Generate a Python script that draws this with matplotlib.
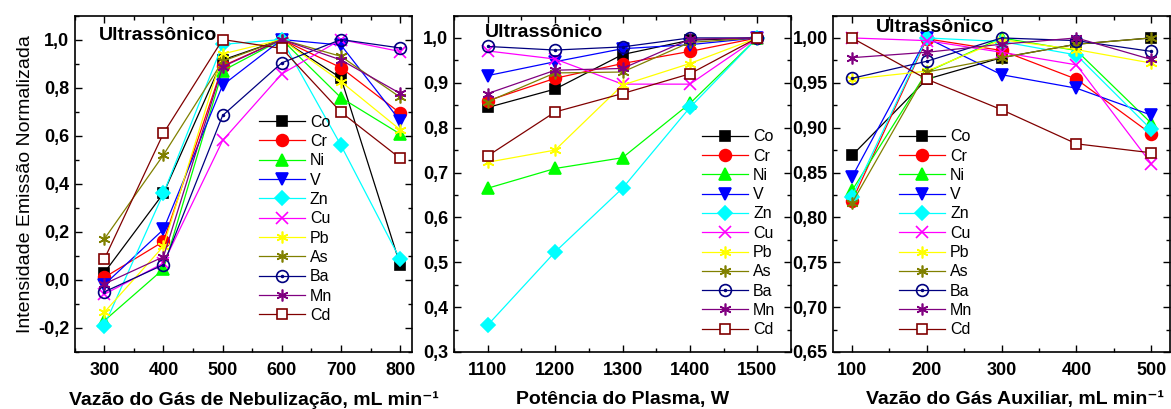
import matplotlib
matplotlib.use('Agg')
import matplotlib.pyplot as plt
from matplotlib.ticker import MultipleLocator, FuncFormatter

plt.rcParams['font.family'] = ['Liberation Sans', 'DejaVu Sans']

# dados
elementos = ['Co', 'Cr', 'Ni', 'V', 'Zn', 'Cu', 'Pb', 'As', 'Ba', 'Mn', 'Cd']
cores = ['#000000', '#ff0000', '#00ff00', '#0000ff', '#00ffff', '#ff00ff',
         '#ffff00', '#808000', '#000080', '#800080', '#800000']
marcadores = ['s', 'o', '^', 'v', 'D', 'x', (6, 2, 0), (6, 2, 0), 'o', (6, 2, 0), 's']
abertos = ['Ba', 'Cd']

vazao_neb = [300, 400, 500, 600, 700, 800]
neb = {
    'Co': [0.03, 0.36, 0.915, 1.0, 0.84, 0.063],
    'Cr': [0.01, 0.16, 0.89, 1.0, 0.883, 0.694],
    'Ni': [-0.17, 0.045, 0.87, 1.0, 0.758, 0.607],
    'V':  [-0.02, 0.21, 0.81, 1.0, 0.977, 0.662],
    'Zn': [-0.19, 0.36, 0.98, 1.0, 0.56, 0.086],
    'Cu': [-0.06, 0.07, 0.58, 0.857, 1.0, 0.95],
    'Pb': [-0.135, 0.14, 0.94, 1.0, 0.825, 0.625],
    'As': [0.17, 0.52, 0.91, 1.0, 0.93, 0.76],
    'Ba': [-0.05, 0.063, 0.684, 0.903, 1.0, 0.965],
    'Mn': [-0.017, 0.096, 0.887, 1.0, 0.915, 0.776],
    'Cd': [0.086, 0.61, 1.0, 0.963, 0.698, 0.506],
}

potencia = [1100, 1200, 1300, 1400, 1500]
pot = {
    'Co': [0.845, 0.886, 0.963, 0.995, 1.0],
    'Cr': [0.86, 0.91, 0.943, 0.97, 1.0],
    'Ni': [0.665, 0.709, 0.733, 0.854, 1.0],
    'V':  [0.916, 0.947, 0.976, 0.985, 1.0],
    'Zn': [0.36, 0.523, 0.665, 0.845, 1.0],
    'Cu': [0.971, 0.953, 0.897, 0.897, 1.0],
    'Pb': [0.723, 0.75, 0.895, 0.943, 1.0],
    'As': [0.858, 0.922, 0.924, 0.99, 1.0],
    'Ba': [0.981, 0.973, 0.98, 1.0, 1.0],
    'Mn': [0.876, 0.928, 0.932, 0.997, 1.0],
    'Cd': [0.737, 0.835, 0.876, 0.92, 1.0],
}

vazao_aux = [100, 200, 300, 400, 500]
aux = {
    'Co': [0.869, 0.954, 0.978, 0.993, 1.0],
    'Cr': [0.818, 0.999, 0.986, 0.954, 0.893],
    'Ni': [0.83, 0.962, 1.0, 0.986, 0.905],
    'V':  [0.845, 1.0, 0.959, 0.944, 0.914],
    'Zn': [0.823, 1.0, 0.996, 0.981, 0.898],
    'Cu': [1.0, 0.997, 0.984, 0.97, 0.86],
    'Pb': [0.954, 0.963, 0.998, 0.987, 0.972],
    'As': [0.816, 0.962, 0.978, 0.993, 1.0],
    'Ba': [0.955, 0.974, 1.0, 0.997, 0.985],
    'Mn': [0.978, 0.984, 0.993, 1.0, 0.976],
    'Cd': [1.0, 0.954, 0.92, 0.882, 0.872],
}


def virgula(casas):
    return FuncFormatter(lambda v, p: f"{v:.{casas}f}".replace('.', ','))


def desenhar(ax, x, dados, xlim, ylim, ymaj, ymin, casas, xlabel, xlabel_x,
             leg_pos, txt_pos):
    handles = []
    for el, cor, m in zip(elementos, cores, marcadores):
        ms = 7 if m == 'D' else (7.5 if m == 's' else 8.5)
        fc = 'none' if el in abertos else cor
        if el == 'Cd':
            fc = 'white'
        linha, = ax.plot(x, dados[el], color=cor, marker=m, ms=ms, mfc=fc,
                         mec=cor, lw=0.9, mew=1.2, label=el)
        if el == 'Ba':
            ponto, = ax.plot(x, dados[el], ls='none', marker='o', ms=1.5,
                             color=cor)
            handles.append((linha, ponto))
        else:
            handles.append(linha)
    ax.set_xlim(*xlim)
    ax.set_ylim(*ylim)
    ax.xaxis.set_major_locator(MultipleLocator(100))
    ax.xaxis.set_minor_locator(MultipleLocator(50))
    ax.yaxis.set_major_locator(MultipleLocator(ymaj))
    ax.yaxis.set_minor_locator(MultipleLocator(ymin))
    ax.yaxis.set_major_formatter(virgula(casas))
    ax.tick_params(which='both', direction='in', top=True, right=True, width=1)
    ax.tick_params(which='major', length=5)
    ax.tick_params(which='minor', length=3)
    ax.tick_params(axis='x', pad=7)
    ax.tick_params(axis='y', pad=4)
    for lb in ax.get_xticklabels() + ax.get_yticklabels():
        lb.set_fontweight('bold')
        lb.set_fontsize(13)
    for sp in ax.spines.values():
        sp.set_linewidth(1.2)
    ax.set_xlabel(xlabel, fontsize=14, fontweight='bold', x=xlabel_x, labelpad=9)
    ax.legend(handles, elementos, loc='upper left', bbox_to_anchor=leg_pos,
              frameon=False, fontsize=11.5, borderpad=0, borderaxespad=0,
              handlelength=2.9, handletextpad=0.3, labelspacing=0.27,
              numpoints=1)
    ax.text(txt_pos[0], txt_pos[1], 'Ultrassônico', transform=ax.transAxes,
            fontsize=14, fontweight='bold', va='center', ha='left')


fig = plt.figure(figsize=(11.71, 4.09), dpi=100)
ax1 = fig.add_axes([0.0638, 0.1394, 0.288, 0.8227])
ax2 = fig.add_axes([0.3877, 0.1394, 0.2878, 0.8227])
ax3 = fig.add_axes([0.7116, 0.1394, 0.2875, 0.8227])

desenhar(ax1, vazao_neb, neb, (250, 820), (-0.3, 1.1), 0.2, 0.1, 1,
         'Vazão do Gás de Nebulização, mL min⁻¹', 0.53,
         (0.546, 0.705), (0.072, 0.94))
desenhar(ax2, potencia, pot, (1050, 1550), (0.3, 1.05), 0.1, 0.05, 1,
         'Potência do Plasma, W', 0.5,
         (0.736, 0.662), (0.092, 0.95))
desenhar(ax3, vazao_aux, aux, (75, 525), (0.65, 1.025), 0.05, 0.025, 2,
         'Vazão do Gás Auxiliar, mL min⁻¹', 0.54,
         (0.195, 0.662), (0.127, 0.965))

ax1.set_ylabel('Intensidade Emissão Normalizada', fontsize=14, labelpad=3)

fig.savefig('out.png', dpi=100)
